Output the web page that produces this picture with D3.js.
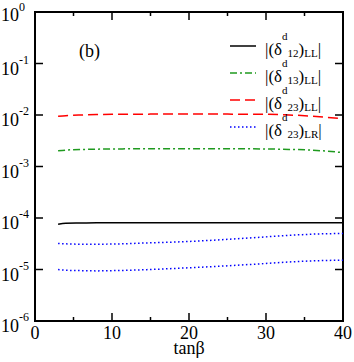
<!DOCTYPE html>
<html>
<head>
<meta charset="utf-8">
<script src="https://cdn.jsdelivr.net/npm/d3@7"></script>
<style>
body { margin: 0; background: #fff; }
</style>
</head>
<body>
<div id="chart-area"></div>
<script>
// data
let tanb   = [3, 4, 6, 8, 10, 15, 20, 25, 30, 33, 36, 38, 40];
let d12LL  = [7.6e-5, 7.9e-5, 8.0e-5, 8.1e-5, 8.1e-5, 8.1e-5, 8.1e-5, 8.1e-5, 8.1e-5, 8.1e-5, 8.1e-5, 8.1e-5, 8.1e-5];
let d13LL  = [2.02e-3, 2.08e-3, 2.14e-3, 2.17e-3, 2.19e-3, 2.21e-3, 2.22e-3, 2.21e-3, 2.19e-3, 2.15e-3, 2.08e-3, 1.98e-3, 1.86e-3];
let d23LL  = [9.4e-3, 9.7e-3, 1.0e-2, 1.02e-2, 1.03e-2, 1.04e-2, 1.05e-2, 1.04e-2, 1.03e-2, 1.0e-2, 9.5e-3, 9.0e-3, 8.5e-3];
let d23LRa = [3.2e-5, 3.15e-5, 3.1e-5, 3.1e-5, 3.12e-5, 3.3e-5, 3.5e-5, 3.85e-5, 4.3e-5, 4.6e-5, 4.85e-5, 4.95e-5, 5.0e-5];
let d23LRb = [1.0e-5, 9.7e-6, 9.5e-6, 9.4e-6, 9.5e-6, 1.0e-5, 1.08e-5, 1.18e-5, 1.31e-5, 1.4e-5, 1.47e-5, 1.5e-5, 1.52e-5];
let xTicks = [0, 10, 20, 30, 40];
let yTicks = [-6, -5, -4, -3, -2, -1, 0];
let legendLabels = [["12", "LL"], ["13", "LL"], ["23", "LL"], ["23", "LR"]];

let margin = {left: 35, top: 12, right: 11, bottom: 41};
let width = 354 - margin.left - margin.right;
let height = 362 - margin.top - margin.bottom;

var svg = d3.select('#chart-area')
    .append('svg')
    .attr('width', 354)
    .attr('height', 362)
    .style('font-family', 'Liberation Serif, Tinos, Times New Roman, DejaVu Serif, serif');
var g = svg.append('g').attr('transform', 'translate(' + margin.left + ',' + margin.top + ')');

var x = d3.scaleLinear().domain([0, 40]).range([0, width]);
var y = d3.scaleLog().domain([1e-6, 1]).range([height, 0]);

// ticks (inward, mirrored)
var tickG = g.append('g').attr('stroke', '#000').attr('stroke-width', 1.5);
d3.range(0, 41, 5).forEach(function(v) {
    var len = v % 10 === 0 ? 8 : 4;
    tickG.append('line').attr('x1', x(v)).attr('x2', x(v)).attr('y1', height).attr('y2', height - len);
    tickG.append('line').attr('x1', x(v)).attr('x2', x(v)).attr('y1', 0).attr('y2', len);
});
yTicks.forEach(function(e) {
    var yy = y(Math.pow(10, e));
    tickG.append('line').attr('x1', 0).attr('x2', 8).attr('y1', yy).attr('y2', yy);
    tickG.append('line').attr('x1', width).attr('x2', width - 8).attr('y1', yy).attr('y2', yy);
});

// frame
g.append('rect')
    .attr('width', width).attr('height', height)
    .attr('fill', 'none').attr('stroke', '#000').attr('stroke-width', 2);

// x tick labels
xTicks.forEach(function(v) {
    g.append('text')
        .attr('x', x(v)).attr('y', height + 18)
        .attr('text-anchor', 'middle')
        .attr('font-size', '18px')
        .text(v);
});

// y tick labels
yTicks.forEach(function(e) {
    var off = e === 0 ? 9 : 11;
    var t = g.append('text')
        .attr('x', -34).attr('y', y(Math.pow(10, e)) + off)
        .attr('font-size', '18px');
    t.append('tspan').text('10');
    t.append('tspan').attr('dy', e === 0 ? -10 : -11).attr('font-size', '12px').text(e === 0 ? '0' : '-' + (-e));
});

// x axis label
g.append('text')
    .attr('x', x(20)).attr('y', height + 33)
    .attr('text-anchor', 'middle')
    .attr('font-size', '18px')
    .text('tan\u03b2');

// (b)
g.append('text')
    .attr('x', 44).attr('y', 45)
    .attr('font-size', '18px')
    .text('(b)');

var series = [
    {vals: d12LL, color: '#000000', dash: null},
    {vals: d13LL, color: '#1f9a1f', dash: '7,3,2,3'},
    {vals: d23LL, color: '#ff0000', dash: '10,5'},
    {vals: d23LRa, color: '#0000ff', dash: '1.5,2.5'},
    {vals: d23LRb, color: '#0000ff', dash: '1.5,2.5'}
];

var line = d3.line()
    .x(function(d) { return x(d[0]); })
    .y(function(d) { return y(d[1]); })
    .curve(d3.curveMonotoneX);

series.forEach(function(s) {
    g.append('path')
        .datum(tanb.map(function(t, i) { return [t, s.vals[i]]; }))
        .attr('d', line)
        .attr('fill', 'none')
        .attr('stroke', s.color)
        .attr('stroke-width', 1.5)
        .attr('stroke-dasharray', s.dash);
});

// legend
var leg = g.append('g').attr('transform', 'translate(195, 34)');
legendLabels.forEach(function(lab, i) {
    var s = series[i];
    var yy = i * 27;
    leg.append('line')
        .attr('x1', 0).attr('x2', 26).attr('y1', yy).attr('y2', yy)
        .attr('stroke', s.color).attr('stroke-width', 1.5)
        .attr('stroke-dasharray', s.dash);
    var t = leg.append('text')
        .attr('x', 35).attr('y', yy + 9)
        .attr('font-size', '17px');
    t.append('tspan').text('|(\u03b4');
    t.append('tspan').attr('dy', -15).attr('font-size', '11px').text('d');
    t.append('tspan').attr('dy', 17).attr('font-size', '11px').text(lab[0]);
    t.append('tspan').attr('dy', -2).text(')');
    t.append('tspan').attr('dy', 2).attr('font-size', '11px').text(lab[1]);
    t.append('tspan').attr('dy', -2).text('|');
});
</script>
</body>
</html>
